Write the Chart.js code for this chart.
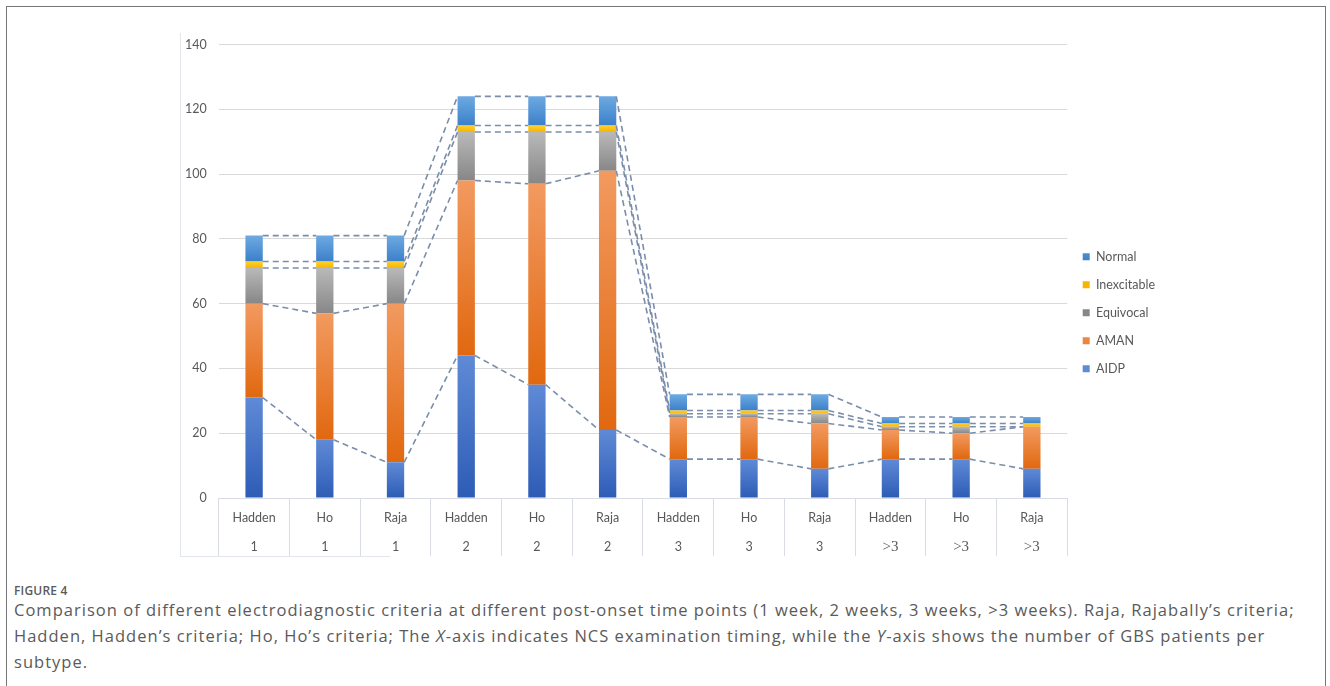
<!DOCTYPE html>
<html>
<head>
<meta charset="utf-8">
<script src="https://cdn.jsdelivr.net/npm/chart.js@4.4.1/dist/chart.umd.min.js"></script>
<style>
  html, body { margin: 0; padding: 0; background: #fff; }
  body { width: 1330px; height: 686px; position: relative; overflow: hidden; font-family: "Open Sans", "Noto Sans", sans-serif; }
  .frame { position: absolute; left: 6px; top: 6px; width: 1320px; height: 700px; border: 1.5px solid #777; border-bottom: none; box-sizing: border-box; }
  .imgEdgeV { position: absolute; left: 180px; top: 33px; width: 1px; height: 524px; background: #e3e6ea; }
  .imgEdgeH { position: absolute; left: 180px; top: 556px; width: 210px; height: 1px; background: #e3e6ea; }
  #wrap { position: absolute; left: 150px; top: 25px; width: 1030px; height: 535px; }
  .figlabel { position: absolute; left: 14px; top: 582px; font-size: 12px; font-weight: 600; color: #5a5a5a; letter-spacing: 0.2px; }
  .caption { position: absolute; left: 14px; top: 597px; font-size: 16.5px; line-height: 26px; color: #5a5a5a; letter-spacing: 1.02px; white-space: nowrap; }
</style>
</head>
<body>
<div class="frame"></div>
<div class="imgEdgeV"></div>
<div class="imgEdgeH"></div>
<div id="wrap"><canvas id="barChart"></canvas></div>
<div class="figlabel">FIGURE 4</div>
<div class="caption">Comparison of different electrodiagnostic criteria at different post-onset time points (1 week, 2 weeks, 3 weeks, &gt;3 weeks). Raja, Rajabally’s criteria;<br>Hadden, Hadden’s criteria; Ho, Ho’s criteria; The <i>X</i>-axis indicates NCS examination timing, while the <i>Y</i>-axis shows the number of GBS patients per<br>subtype.</div>
<script>
// categories (two label rows)
const criteria = ['Hadden', 'Ho', 'Raja', 'Hadden', 'Ho', 'Raja', 'Hadden', 'Ho', 'Raja', 'Hadden', 'Ho', 'Raja'];
const weeks = ['1', '1', '1', '2', '2', '2', '3', '3', '3', '>3', '>3', '>3'];

// patients per subtype, stacked bottom to top
const aidp        = [31, 18, 11, 44, 35, 21, 12, 12, 9, 12, 12, 9];
const aman        = [29, 39, 49, 54, 62, 80, 13, 13, 14, 9, 8, 13];
const equivocal   = [11, 14, 11, 15, 16, 12, 1, 1, 3, 1, 2, 0];
const inexcitable = [2, 2, 2, 2, 2, 2, 1, 1, 1, 1, 1, 1];
const normal      = [8, 8, 8, 9, 9, 9, 5, 5, 5, 2, 2, 2];

const yTicks = [0, 20, 40, 60, 80, 100, 120, 140];

const series = [aidp, aman, equivocal, inexcitable, normal];
const names = ['AIDP', 'AMAN', 'Equivocal', 'Inexcitable', 'Normal'];

// [solid, lighter top, darker bottom]
const palette = [
  ['#4472c4', '#5f8ad6', '#2d5cb6'],
  ['#ed7d31', '#f29a60', '#e1680f'],
  ['#a5a5a5', '#b9b9b9', '#878787'],
  ['#ffc000', '#ffd030', '#f5b500'],
  ['#5b9bd5', '#6eaae2', '#3b80c9']
];

function gradientFill(di) {
  return (ctx) => {
    const chart = ctx.chart;
    const y = chart.scales.y;
    if (ctx.type !== 'data' || !chart.chartArea || !y) return palette[di][0];
    let base = 0;
    for (let k = 0; k < di; k++) base += series[k][ctx.dataIndex];
    const top = y.getPixelForValue(base + series[di][ctx.dataIndex]);
    const bottom = y.getPixelForValue(base);
    if (!isFinite(top) || !isFinite(bottom) || top === bottom) return palette[di][0];
    const g = chart.ctx.createLinearGradient(0, top, 0, bottom);
    g.addColorStop(0, palette[di][1]);
    g.addColorStop(1, palette[di][2]);
    return g;
  };
}

// Excel style series lines between neighbouring stacks
const seriesLines = {
  id: 'seriesLines',
  afterDatasetsDraw(chart) {
    const c = chart.ctx;
    c.save();
    c.strokeStyle = '#7a8daa';
    c.lineWidth = 1.6;
    c.setLineDash([6, 4]);
    chart.data.datasets.forEach((ds, di) => {
      const bars = chart.getDatasetMeta(di).data;
      for (let i = 0; i < bars.length - 1; i++) {
        const a = bars[i], b = bars[i + 1];
        c.beginPath();
        c.moveTo(a.x + a.width / 2, a.y);
        c.lineTo(b.x - b.width / 2, b.y);
        c.stroke();
      }
    });
    c.restore();
  }
};

// the two label rows of the category table, placed by the x scale
const tableLabels = {
  id: 'tableLabels',
  afterDraw(chart) {
    const x = chart.scales.x;
    const c = chart.ctx;
    c.save();
    c.fillStyle = '#595959';
    c.textAlign = 'center';
    c.textBaseline = 'middle';
    criteria.forEach((name, i) => {
      c.font = '12.5px Lato, "Open Sans", sans-serif';
      c.fillText(name, x.getPixelForTick(i), x.top + 20);
    });
    weeks.forEach((w, i) => {
      c.font = w.startsWith('>') ? '15px "Liberation Serif", serif' : '12.5px Lato, "Open Sans", sans-serif';
      c.fillText(w, x.getPixelForTick(i), x.top + 49);
    });
    c.restore();
  }
};

const data = {
  labels: criteria,
  datasets: series.map((vals, i) => ({
    label: names[i],
    data: vals,
    backgroundColor: gradientFill(i),
    borderWidth: 0,
    categoryPercentage: 1,
    barPercentage: 0.245
  }))
};

const tickFont = { family: 'Lato, "Open Sans", sans-serif', size: 12.5 };

const config = {
  type: 'bar',
  data: data,
  plugins: [seriesLines, tableLabels],
  options: {
    responsive: true,
    maintainAspectRatio: false,
    animation: false,
    layout: { padding: { left: 23, top: 2, right: 15, bottom: 4 } },
    plugins: {
      tooltip: { enabled: false },
      legend: {
        position: 'right',
        reverse: true,
        title: { display: true, text: ' ', padding: 14, font: { size: 12 } },
        labels: {
          boxWidth: 7,
          boxHeight: 7,
          padding: 15.5,
          color: '#595959',
          font: { family: 'Lato, "Open Sans", sans-serif', size: 12.5 }
        }
      }
    },
    scales: {
      x: {
        stacked: true,
        offset: true,
        border: { display: true, color: '#d9dde3' },
        grid: { offset: true, drawOnChartArea: false, tickLength: 58, color: '#d9dde3' },
        ticks: { display: false }
      },
      y: {
        stacked: true,
        min: 0,
        max: 140,
        border: { display: false },
        afterBuildTicks: (axis) => { axis.ticks = yTicks.map(v => ({ value: v })); },
        grid: { color: '#d9d9d9', drawTicks: false },
        ticks: { color: '#595959', font: tickFont, padding: 12 }
      }
    }
  }
};

new Chart(document.getElementById('barChart').getContext('2d'), config);
</script>
</body>
</html>
